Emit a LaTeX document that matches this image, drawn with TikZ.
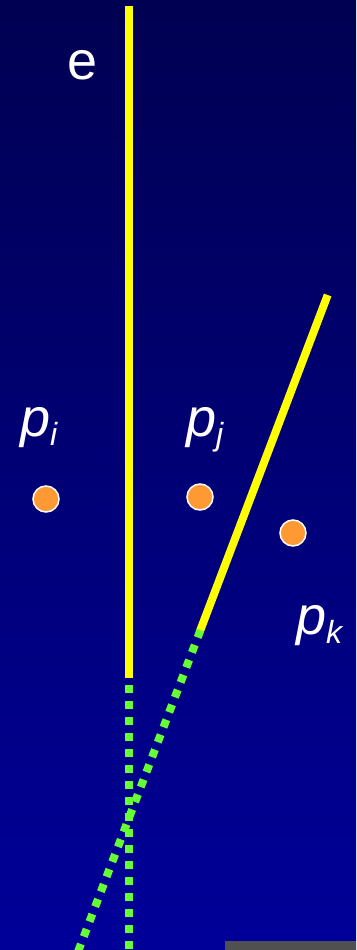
\documentclass[tikz,border=0pt]{standalone}
\usepackage{fontspec}
\setmainfont{Liberation Sans}
\definecolor{bgtop}{RGB}{0,0,82}
\definecolor{bgbot}{RGB}{0,0,153}
\definecolor{lineyellow}{RGB}{255,255,0}
\definecolor{dotgreen}{RGB}{102,255,51}
\definecolor{ptorange}{RGB}{255,153,51}
\definecolor{bargray}{RGB}{80,80,80}
\tikzset{
  edgeline/.style={draw=lineyellow,line width=8pt,line cap=butt},
  extline/.style={draw=dotgreen,line width=8pt,line cap=butt,dash pattern=on 8pt off 8pt},
  site/.style={circle,fill=ptorange,draw=white,line width=1.5pt,minimum size=26pt,inner sep=0pt},
  lbl/.style={text=white,inner sep=0pt,anchor=base west,font=\fontsize{54}{54}\selectfont},
}
\newcommand{\sitelabel}[2]{\textit{p}\raisebox{-#2}{\fontsize{32}{32}\selectfont\textit{#1}}}
\begin{document}
\begin{tikzpicture}[x=1pt,y=-1pt]
\useasboundingbox (0,0) rectangle (356,950);
\shade[top color=bgtop,bottom color=bgbot] (0,0) rectangle (356,950);
\fill[bargray] (225,941) rectangle (356,950);
% edge endpoints
\coordinate (e1) at (129,6);
\coordinate (e2) at (129,678);
\coordinate (f1) at (327.7,295);
\coordinate (f2) at (200,631);
\coordinate (g1) at (129,685);
\coordinate (g2) at (129,955);
\coordinate (h1) at (200.5,630);
\coordinate (h2) at (74.5,961);
\draw[edgeline] (e1) -- (e2);
\draw[edgeline] (f1) -- (f2);
\draw[extline] (g1) -- (g2);
\draw[extline] (h1) -- (h2);
% sites
\node[site] (pi) at (46,499) {};
\node[site] (pj) at (200,497) {};
\node[site] (pk) at (293,533) {};
% labels
\node[lbl] (le) at (67,80) {e};
\node[lbl] (lpi) at (20,436) {\sitelabel{i}{9pt}};
\node[lbl] (lpj) at (186,436) {\sitelabel{j}{9pt}};
\node[lbl] (lpk) at (296,634) {\sitelabel{k}{9pt}};
\end{tikzpicture}
\end{document}
